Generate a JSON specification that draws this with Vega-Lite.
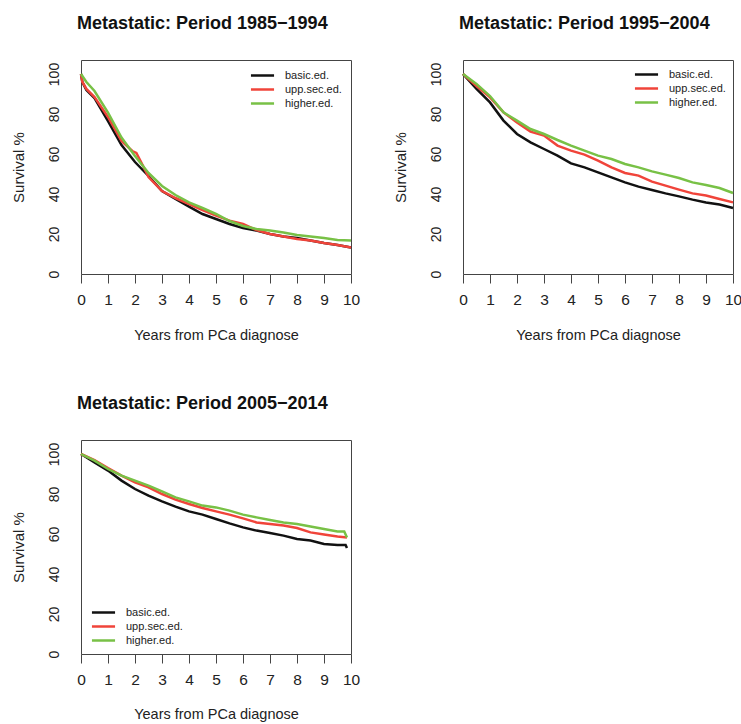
{
"$schema": "https://vega.github.io/schema/vega-lite/v6.json",
"padding": {"left": 10, "top": 14, "right": 5, "bottom": 5},
"config": {
 "font": "Liberation Sans",
 "view": {"stroke": "#444444", "strokeWidth": 1},
 "axis": {"grid": false, "domain": false, "labelColor": "#222222", "titleColor": "#222222", "tickColor": "#444444", "titleFontWeight": "normal", "labelFlush": false, "labelOverlap": false},
 "title": {"fontSize": 18, "fontWeight": "bold", "anchor": "start", "frame": "group", "baseline": "alphabetic", "offset": 27, "dx": -4, "color": "#111111"},
 "legend": {"symbolType": "M-1.65,0H1.65", "symbolSize": 196, "symbolStrokeWidth": 2.5, "labelFontSize": 11, "labelOffset": 14, "rowPadding": 0, "labelColor": "#222222", "title": null}
},
"columns": 2,
"spacing": {"row": 166, "column": 112},
"bounds": "flush",
"resolve": {"scale": {"color": "independent"}, "legend": {"color": "independent"}},
"datasets": {"km": [
{"p":"A","g":"basic.ed.","t":0,"s":100},{"p":"A","g":"basic.ed.","t":0.05,"s":96},{"p":"A","g":"basic.ed.","t":0.2,"s":92},{"p":"A","g":"basic.ed.","t":0.5,"s":88},{"p":"A","g":"basic.ed.","t":1,"s":76.5},{"p":"A","g":"basic.ed.","t":1.5,"s":64.5},{"p":"A","g":"basic.ed.","t":2,"s":56},{"p":"A","g":"basic.ed.","t":2.5,"s":49},{"p":"A","g":"basic.ed.","t":3,"s":41.5},{"p":"A","g":"basic.ed.","t":3.5,"s":37.5},{"p":"A","g":"basic.ed.","t":4,"s":33.7},{"p":"A","g":"basic.ed.","t":4.5,"s":30},{"p":"A","g":"basic.ed.","t":5,"s":27.5},{"p":"A","g":"basic.ed.","t":5.5,"s":25},{"p":"A","g":"basic.ed.","t":6,"s":23},{"p":"A","g":"basic.ed.","t":6.5,"s":21.7},{"p":"A","g":"basic.ed.","t":7,"s":20},{"p":"A","g":"basic.ed.","t":7.5,"s":18.7},{"p":"A","g":"basic.ed.","t":8,"s":18},{"p":"A","g":"basic.ed.","t":8.5,"s":16.7},{"p":"A","g":"basic.ed.","t":9,"s":15.5},{"p":"A","g":"basic.ed.","t":9.5,"s":14.5},{"p":"A","g":"basic.ed.","t":10,"s":13.3},
{"p":"A","g":"upp.sec.ed.","t":0,"s":100},{"p":"A","g":"upp.sec.ed.","t":0.05,"s":96},{"p":"A","g":"upp.sec.ed.","t":0.2,"s":92.5},{"p":"A","g":"upp.sec.ed.","t":0.5,"s":88.5},{"p":"A","g":"upp.sec.ed.","t":1,"s":78.5},{"p":"A","g":"upp.sec.ed.","t":1.5,"s":66.5},{"p":"A","g":"upp.sec.ed.","t":1.9,"s":61.5},{"p":"A","g":"upp.sec.ed.","t":2.05,"s":60.5},{"p":"A","g":"upp.sec.ed.","t":2.3,"s":54},{"p":"A","g":"upp.sec.ed.","t":2.5,"s":48.5},{"p":"A","g":"upp.sec.ed.","t":3,"s":41.5},{"p":"A","g":"upp.sec.ed.","t":3.5,"s":38},{"p":"A","g":"upp.sec.ed.","t":4,"s":35},{"p":"A","g":"upp.sec.ed.","t":4.5,"s":32},{"p":"A","g":"upp.sec.ed.","t":5,"s":29.2},{"p":"A","g":"upp.sec.ed.","t":5.5,"s":26.7},{"p":"A","g":"upp.sec.ed.","t":6,"s":25},{"p":"A","g":"upp.sec.ed.","t":6.5,"s":22},{"p":"A","g":"upp.sec.ed.","t":7,"s":20},{"p":"A","g":"upp.sec.ed.","t":7.5,"s":18.7},{"p":"A","g":"upp.sec.ed.","t":8,"s":17.5},{"p":"A","g":"upp.sec.ed.","t":8.5,"s":16.7},{"p":"A","g":"upp.sec.ed.","t":9,"s":15.5},{"p":"A","g":"upp.sec.ed.","t":9.5,"s":14.5},{"p":"A","g":"upp.sec.ed.","t":10,"s":13.3},
{"p":"A","g":"higher.ed.","t":0,"s":100},{"p":"A","g":"higher.ed.","t":0.2,"s":96},{"p":"A","g":"higher.ed.","t":0.5,"s":91.5},{"p":"A","g":"higher.ed.","t":1,"s":80.7},{"p":"A","g":"higher.ed.","t":1.5,"s":68.2},{"p":"A","g":"higher.ed.","t":2,"s":59},{"p":"A","g":"higher.ed.","t":2.5,"s":50.5},{"p":"A","g":"higher.ed.","t":3,"s":44},{"p":"A","g":"higher.ed.","t":3.5,"s":39.5},{"p":"A","g":"higher.ed.","t":4,"s":35.8},{"p":"A","g":"higher.ed.","t":4.5,"s":33},{"p":"A","g":"higher.ed.","t":5,"s":30},{"p":"A","g":"higher.ed.","t":5.5,"s":26.5},{"p":"A","g":"higher.ed.","t":6,"s":24},{"p":"A","g":"higher.ed.","t":6.5,"s":22.5},{"p":"A","g":"higher.ed.","t":7,"s":21.7},{"p":"A","g":"higher.ed.","t":7.5,"s":20.8},{"p":"A","g":"higher.ed.","t":8,"s":19.5},{"p":"A","g":"higher.ed.","t":8.5,"s":18.7},{"p":"A","g":"higher.ed.","t":9,"s":18},{"p":"A","g":"higher.ed.","t":9.5,"s":17},{"p":"A","g":"higher.ed.","t":10,"s":16.7},
{"p":"B","g":"basic.ed.","t":0,"s":100},{"p":"B","g":"basic.ed.","t":0.5,"s":92.5},{"p":"B","g":"basic.ed.","t":1,"s":85.8},{"p":"B","g":"basic.ed.","t":1.5,"s":76.7},{"p":"B","g":"basic.ed.","t":2,"s":70},{"p":"B","g":"basic.ed.","t":2.5,"s":65.8},{"p":"B","g":"basic.ed.","t":3,"s":62.5},{"p":"B","g":"basic.ed.","t":3.5,"s":59.2},{"p":"B","g":"basic.ed.","t":4,"s":55.3},{"p":"B","g":"basic.ed.","t":4.5,"s":53.3},{"p":"B","g":"basic.ed.","t":5,"s":50.8},{"p":"B","g":"basic.ed.","t":5.5,"s":48.3},{"p":"B","g":"basic.ed.","t":6,"s":45.8},{"p":"B","g":"basic.ed.","t":6.5,"s":43.7},{"p":"B","g":"basic.ed.","t":7,"s":42},{"p":"B","g":"basic.ed.","t":7.5,"s":40.3},{"p":"B","g":"basic.ed.","t":8,"s":38.8},{"p":"B","g":"basic.ed.","t":8.5,"s":37.2},{"p":"B","g":"basic.ed.","t":9,"s":35.8},{"p":"B","g":"basic.ed.","t":9.5,"s":34.7},{"p":"B","g":"basic.ed.","t":10,"s":33},
{"p":"B","g":"upp.sec.ed.","t":0,"s":100},{"p":"B","g":"upp.sec.ed.","t":0.5,"s":94},{"p":"B","g":"upp.sec.ed.","t":1,"s":88.3},{"p":"B","g":"upp.sec.ed.","t":1.5,"s":80.8},{"p":"B","g":"upp.sec.ed.","t":2,"s":75.8},{"p":"B","g":"upp.sec.ed.","t":2.5,"s":71.2},{"p":"B","g":"upp.sec.ed.","t":3,"s":69.2},{"p":"B","g":"upp.sec.ed.","t":3.5,"s":64.2},{"p":"B","g":"upp.sec.ed.","t":4,"s":61.7},{"p":"B","g":"upp.sec.ed.","t":4.5,"s":59.7},{"p":"B","g":"upp.sec.ed.","t":5,"s":56.7},{"p":"B","g":"upp.sec.ed.","t":5.5,"s":53.3},{"p":"B","g":"upp.sec.ed.","t":6,"s":50.5},{"p":"B","g":"upp.sec.ed.","t":6.5,"s":49.2},{"p":"B","g":"upp.sec.ed.","t":7,"s":46.2},{"p":"B","g":"upp.sec.ed.","t":7.5,"s":44.2},{"p":"B","g":"upp.sec.ed.","t":8,"s":42.2},{"p":"B","g":"upp.sec.ed.","t":8.5,"s":40.3},{"p":"B","g":"upp.sec.ed.","t":9,"s":39.2},{"p":"B","g":"upp.sec.ed.","t":9.5,"s":37.5},{"p":"B","g":"upp.sec.ed.","t":10,"s":35.8},
{"p":"B","g":"higher.ed.","t":0,"s":100},{"p":"B","g":"higher.ed.","t":0.5,"s":95},{"p":"B","g":"higher.ed.","t":1,"s":89},{"p":"B","g":"higher.ed.","t":1.5,"s":80.8},{"p":"B","g":"higher.ed.","t":2,"s":76.7},{"p":"B","g":"higher.ed.","t":2.5,"s":72.5},{"p":"B","g":"higher.ed.","t":3,"s":70},{"p":"B","g":"higher.ed.","t":3.5,"s":67},{"p":"B","g":"higher.ed.","t":4,"s":64.2},{"p":"B","g":"higher.ed.","t":4.5,"s":61.7},{"p":"B","g":"higher.ed.","t":5,"s":59.2},{"p":"B","g":"higher.ed.","t":5.5,"s":57.5},{"p":"B","g":"higher.ed.","t":6,"s":55},{"p":"B","g":"higher.ed.","t":6.5,"s":53.3},{"p":"B","g":"higher.ed.","t":7,"s":51.3},{"p":"B","g":"higher.ed.","t":7.5,"s":49.7},{"p":"B","g":"higher.ed.","t":8,"s":48},{"p":"B","g":"higher.ed.","t":8.5,"s":45.8},{"p":"B","g":"higher.ed.","t":9,"s":44.5},{"p":"B","g":"higher.ed.","t":9.5,"s":43},{"p":"B","g":"higher.ed.","t":10,"s":40.5},
{"p":"C","g":"basic.ed.","t":0,"s":100},{"p":"C","g":"basic.ed.","t":0.5,"s":95.8},{"p":"C","g":"basic.ed.","t":1,"s":91.7},{"p":"C","g":"basic.ed.","t":1.5,"s":86.7},{"p":"C","g":"basic.ed.","t":2,"s":82.5},{"p":"C","g":"basic.ed.","t":2.5,"s":79.2},{"p":"C","g":"basic.ed.","t":3,"s":76.3},{"p":"C","g":"basic.ed.","t":3.5,"s":73.7},{"p":"C","g":"basic.ed.","t":4,"s":71.3},{"p":"C","g":"basic.ed.","t":4.5,"s":69.7},{"p":"C","g":"basic.ed.","t":5,"s":67.5},{"p":"C","g":"basic.ed.","t":5.5,"s":65.3},{"p":"C","g":"basic.ed.","t":6,"s":63.3},{"p":"C","g":"basic.ed.","t":6.5,"s":61.7},{"p":"C","g":"basic.ed.","t":7,"s":60.5},{"p":"C","g":"basic.ed.","t":7.5,"s":59.2},{"p":"C","g":"basic.ed.","t":8,"s":57.5},{"p":"C","g":"basic.ed.","t":8.5,"s":56.7},{"p":"C","g":"basic.ed.","t":9,"s":55},{"p":"C","g":"basic.ed.","t":9.5,"s":54.5},{"p":"C","g":"basic.ed.","t":9.8,"s":54.5},{"p":"C","g":"basic.ed.","t":9.85,"s":53},
{"p":"C","g":"upp.sec.ed.","t":0,"s":100},{"p":"C","g":"upp.sec.ed.","t":0.5,"s":97},{"p":"C","g":"upp.sec.ed.","t":1,"s":93},{"p":"C","g":"upp.sec.ed.","t":1.5,"s":89.2},{"p":"C","g":"upp.sec.ed.","t":2,"s":85.8},{"p":"C","g":"upp.sec.ed.","t":2.5,"s":83.3},{"p":"C","g":"upp.sec.ed.","t":3,"s":80},{"p":"C","g":"upp.sec.ed.","t":3.5,"s":77.2},{"p":"C","g":"upp.sec.ed.","t":4,"s":75},{"p":"C","g":"upp.sec.ed.","t":4.5,"s":73},{"p":"C","g":"upp.sec.ed.","t":5,"s":71.3},{"p":"C","g":"upp.sec.ed.","t":5.5,"s":69.7},{"p":"C","g":"upp.sec.ed.","t":6,"s":67.8},{"p":"C","g":"upp.sec.ed.","t":6.5,"s":65.8},{"p":"C","g":"upp.sec.ed.","t":7,"s":65},{"p":"C","g":"upp.sec.ed.","t":7.5,"s":64.2},{"p":"C","g":"upp.sec.ed.","t":8,"s":63},{"p":"C","g":"upp.sec.ed.","t":8.5,"s":60.8},{"p":"C","g":"upp.sec.ed.","t":9,"s":59.7},{"p":"C","g":"upp.sec.ed.","t":9.5,"s":58.7},{"p":"C","g":"upp.sec.ed.","t":9.85,"s":58.3},
{"p":"C","g":"higher.ed.","t":0,"s":100},{"p":"C","g":"higher.ed.","t":0.5,"s":96.7},{"p":"C","g":"higher.ed.","t":1,"s":92.5},{"p":"C","g":"higher.ed.","t":1.5,"s":89.2},{"p":"C","g":"higher.ed.","t":2,"s":86.7},{"p":"C","g":"higher.ed.","t":2.5,"s":84.2},{"p":"C","g":"higher.ed.","t":3,"s":81.3},{"p":"C","g":"higher.ed.","t":3.5,"s":78.3},{"p":"C","g":"higher.ed.","t":4,"s":76.3},{"p":"C","g":"higher.ed.","t":4.5,"s":74.2},{"p":"C","g":"higher.ed.","t":5,"s":73.3},{"p":"C","g":"higher.ed.","t":5.5,"s":71.7},{"p":"C","g":"higher.ed.","t":6,"s":69.7},{"p":"C","g":"higher.ed.","t":6.5,"s":68.3},{"p":"C","g":"higher.ed.","t":7,"s":67},{"p":"C","g":"higher.ed.","t":7.5,"s":65.8},{"p":"C","g":"higher.ed.","t":8,"s":65},{"p":"C","g":"higher.ed.","t":8.5,"s":63.8},{"p":"C","g":"higher.ed.","t":9,"s":62.5},{"p":"C","g":"higher.ed.","t":9.5,"s":61.3},{"p":"C","g":"higher.ed.","t":9.75,"s":61.3},{"p":"C","g":"higher.ed.","t":9.85,"s":58.3}
]},
"concat": [
{
 "width": 270, "height": 214,
 "title": {"text": "Metastatic: Period 1985\u22121994"},
 "data": {"name": "km"},
 "transform": [{"filter": "datum.p === 'A'"}],
 "mark": {"type": "line", "strokeWidth": 2.5},
 "encoding": {
  "x": {"field": "t", "type": "quantitative", "scale": {"domain": [0, 10], "nice": false}, "axis": {"values": [0,1,2,3,4,5,6,7,8,9,10], "tickSize": 9, "labelFontSize": 15.5, "labelPadding": 9, "title": "Years from PCa diagnose", "titleFontSize": 14.5, "titlePadding": 21}},
  "y": {"field": "s", "type": "quantitative", "scale": {"domain": [0, 107], "nice": false}, "axis": {"values": [0,20,40,60,80,100], "tickSize": 0, "labelFontSize": 14, "labelAngle": -90, "labelAlign": "center", "labelBaseline": "bottom", "labelPadding": 20, "title": "Survival %", "titleFontSize": 15, "titlePadding": 21}},
  "color": {"field": "g", "type": "nominal", "scale": {"domain": ["basic.ed.", "upp.sec.ed.", "higher.ed."], "range": ["#111111", "#f0443a", "#78c146"]}, "legend": {"orient": "none", "legendX": 173, "legendY": 7}}
 }
},
{
 "width": 270, "height": 214,
 "title": {"text": "Metastatic: Period 1995\u22122004"},
 "data": {"name": "km"},
 "transform": [{"filter": "datum.p === 'B'"}],
 "mark": {"type": "line", "strokeWidth": 2.5},
 "encoding": {
  "x": {"field": "t", "type": "quantitative", "scale": {"domain": [0, 10], "nice": false}, "axis": {"values": [0,1,2,3,4,5,6,7,8,9,10], "tickSize": 9, "labelFontSize": 15.5, "labelPadding": 9, "title": "Years from PCa diagnose", "titleFontSize": 14.5, "titlePadding": 21}},
  "y": {"field": "s", "type": "quantitative", "scale": {"domain": [0, 107], "nice": false}, "axis": {"values": [0,20,40,60,80,100], "tickSize": 0, "labelFontSize": 14, "labelAngle": -90, "labelAlign": "center", "labelBaseline": "bottom", "labelPadding": 20, "title": "Survival %", "titleFontSize": 15, "titlePadding": 21}},
  "color": {"field": "g", "type": "nominal", "scale": {"domain": ["basic.ed.", "upp.sec.ed.", "higher.ed."], "range": ["#111111", "#f0443a", "#78c146"]}, "legend": {"orient": "none", "legendX": 175, "legendY": 6}}
 }
},
{
 "width": 270, "height": 214,
 "title": {"text": "Metastatic: Period 2005\u22122014"},
 "data": {"name": "km"},
 "transform": [{"filter": "datum.p === 'C'"}],
 "mark": {"type": "line", "strokeWidth": 2.5},
 "encoding": {
  "x": {"field": "t", "type": "quantitative", "scale": {"domain": [0, 10], "nice": false}, "axis": {"values": [0,1,2,3,4,5,6,7,8,9,10], "tickSize": 9, "labelFontSize": 15.5, "labelPadding": 9, "title": "Years from PCa diagnose", "titleFontSize": 14.5, "titlePadding": 20}},
  "y": {"field": "s", "type": "quantitative", "scale": {"domain": [0, 107], "nice": false}, "axis": {"values": [0,20,40,60,80,100], "tickSize": 0, "labelFontSize": 14, "labelAngle": -90, "labelAlign": "center", "labelBaseline": "bottom", "labelPadding": 20, "title": "Survival %", "titleFontSize": 15, "titlePadding": 21}},
  "color": {"field": "g", "type": "nominal", "scale": {"domain": ["basic.ed.", "upp.sec.ed.", "higher.ed."], "range": ["#111111", "#f0443a", "#78c146"]}, "legend": {"orient": "none", "legendX": 14, "legendY": 164}}
 }
}
]
}
